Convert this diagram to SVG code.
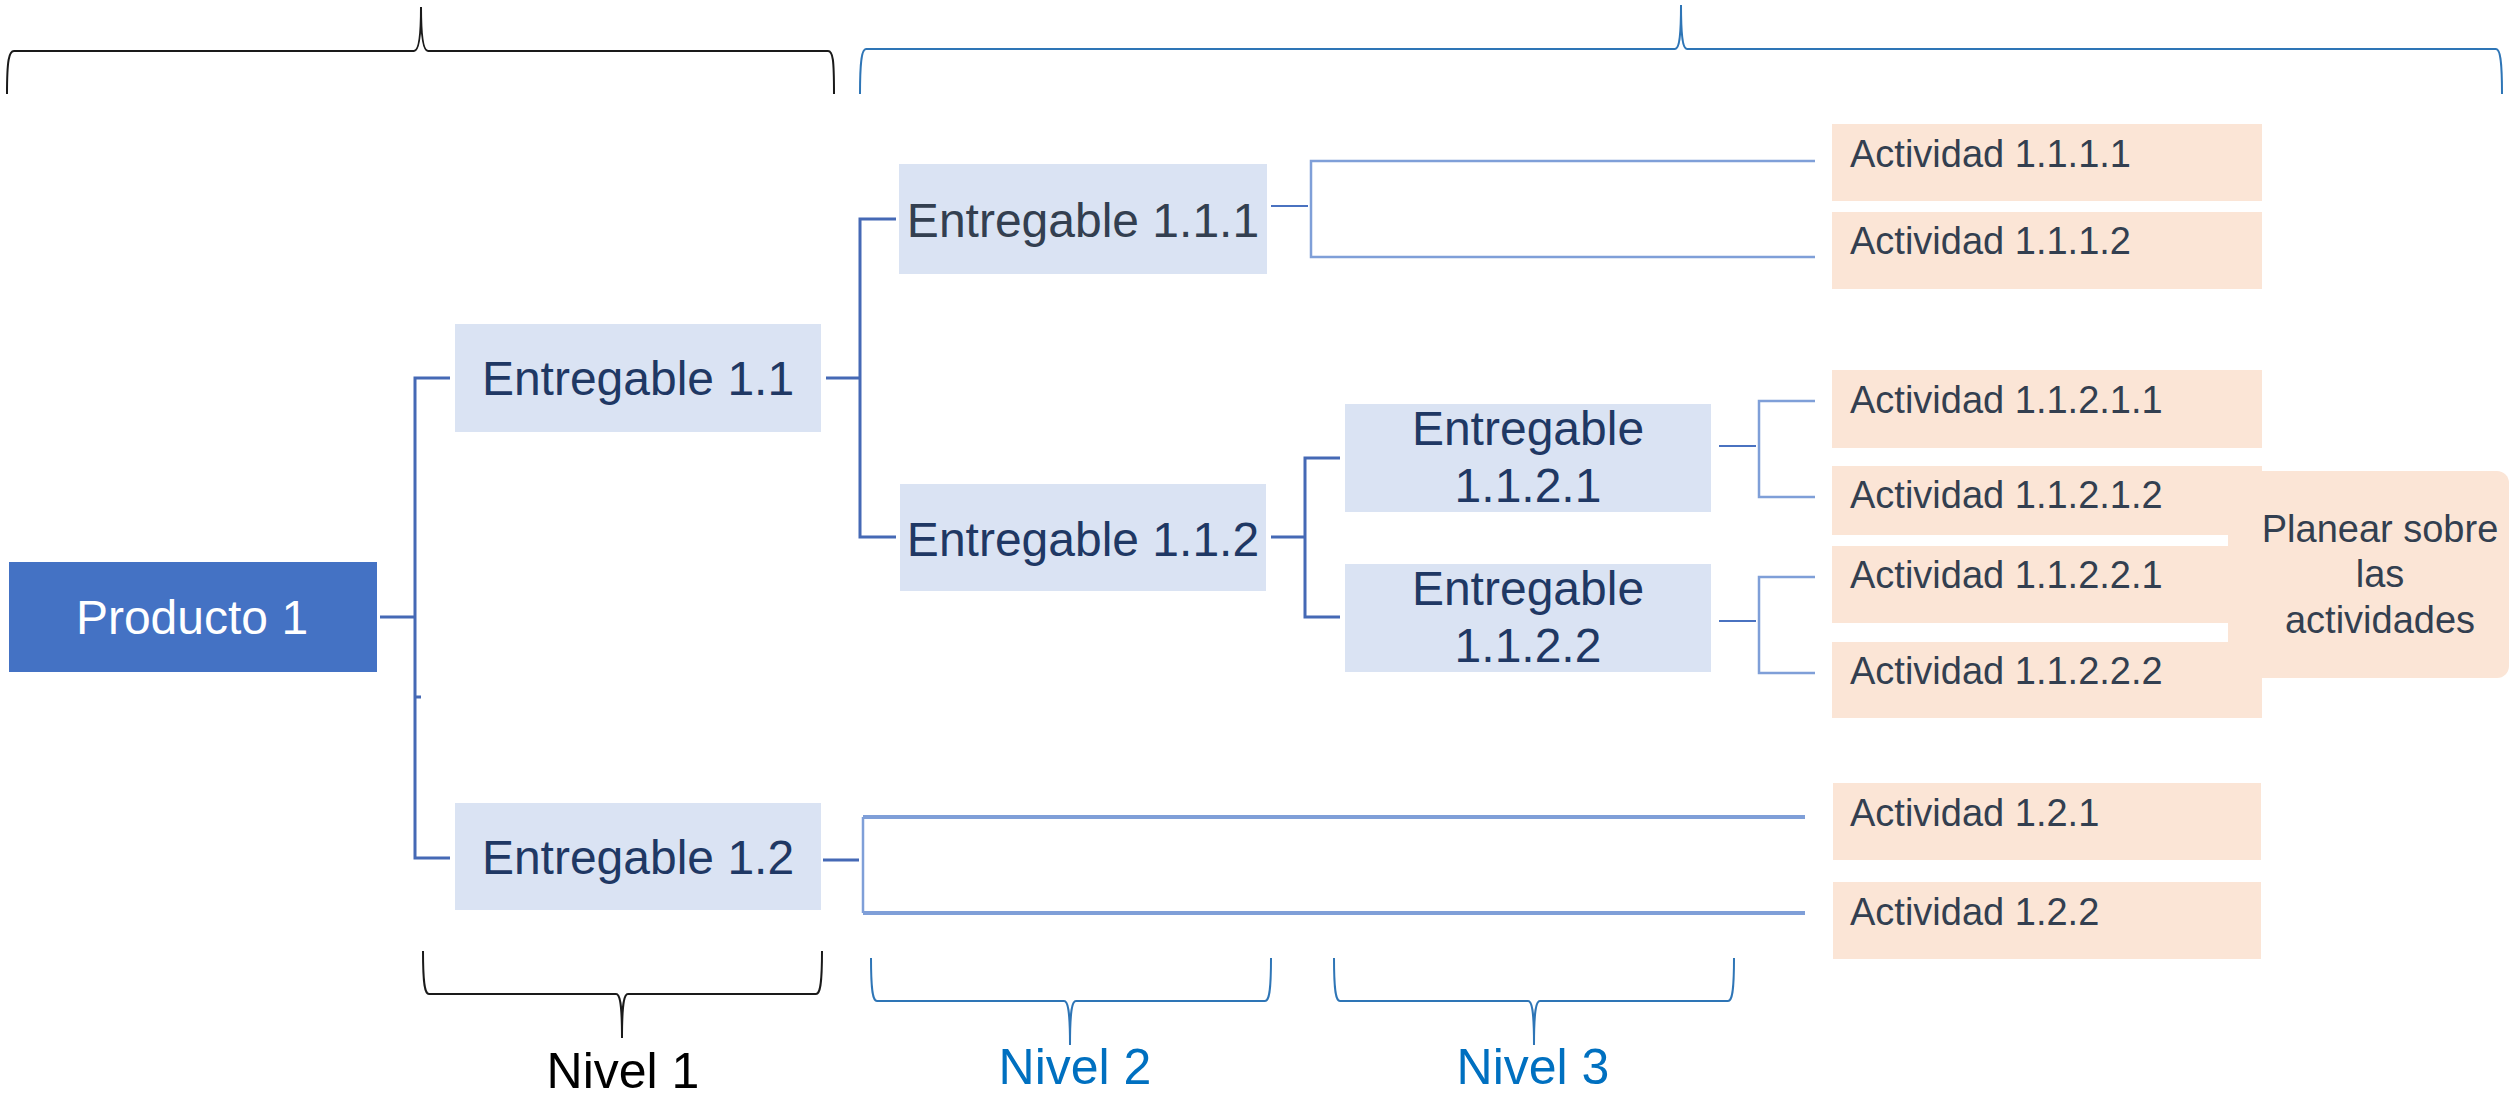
<svg xmlns="http://www.w3.org/2000/svg" width="2509" height="1095" viewBox="0 0 2509 1095">
<style>
  .ent { fill: #DAE3F3; }
  .act { fill: #FBE5D6; }
  .t { font-family: "Liberation Sans", Arial, sans-serif; }
  .te { font-size: 48px; fill: #1F3864; text-anchor: middle; }
  .tg { fill: #333F50; }
  .ta { font-size: 38px; fill: #333F50; }
  .dk { fill: none; stroke: #4569B5; stroke-width: 3; }
  .dk2 { fill: none; stroke: #4A72C0; stroke-width: 2; }
  .lt { fill: none; stroke: #7F9FD8; stroke-width: 2.5; }
  .lt3 { fill: none; stroke: #7F9FD8; stroke-width: 4; }
  .brk { fill: none; stroke: #1a1a1a; stroke-width: 2; }
  .brb { fill: none; stroke: #2E75B6; stroke-width: 2; }
  .niv { font-size: 50px; text-anchor: middle; }
</style>

<g id="braces">
  <path class="brk" d="M7,94 C7,60 9,51 14,51 L414,51 C418,51 421,40 421,7 C421,40 424,51 428,51 L828,51 C833,51 834,60 834,94"/>
  <path class="brb" d="M860,94 C860,60 862,49 866,49 L1675,49 C1679,49 1681,38 1681,5 C1681,38 1683,49 1687,49 L2496,49 C2500,49 2502,60 2502,94"/>
  <path class="brk" d="M423,951 C423,985 425,994 429,994 L616,994 C620,994 622,1003 622,1038 C622,1003 624,994 628,994 L816,994 C820,994 822,985 822,951"/>
  <path class="brb" d="M871,958 C871,992 873,1001 877,1001 L1064,1001 C1068,1001 1070,1010 1070,1045 C1070,1010 1072,1001 1076,1001 L1265,1001 C1269,1001 1271,992 1271,958"/>
  <path class="brb" d="M1334,958 C1334,992 1336,1001 1340,1001 L1528,1001 C1532,1001 1534,1010 1534,1045 C1534,1010 1536,1001 1540,1001 L1728,1001 C1732,1001 1734,992 1734,958"/>
</g>

<g id="connectors">
  <path class="dk" d="M380,617 H415 M450,378 H415 V858 H450 M415,697 H421"/>
  <path class="dk" d="M826,378 H860 M896,219 H860 V537 H896"/>
  <path class="dk" d="M1271,537 H1305 M1340,458 H1305 V617 H1340"/>
  <path class="dk2" d="M1271,206 H1308"/>
  <path class="lt" d="M1815,161 H1311 V257 H1815"/>
  <path class="dk2" d="M1719,446 H1756"/>
  <path class="lt" d="M1815,401 H1759 V497 H1815"/>
  <path class="dk2" d="M1719,621 H1756"/>
  <path class="lt" d="M1815,577 H1759 V673 H1815"/>
  <path class="dk" d="M823,860 H859"/>
  <path class="lt" d="M863,817 V913"/>
  <path class="lt3" d="M863,817 H1805 M863,913 H1805"/>
</g>

<g id="producto-1">
  <rect x="9" y="562" width="368" height="110" fill="#4472C4"/>
  <text class="t" x="192" y="634" font-size="48" fill="#FFFFFF" text-anchor="middle">Producto 1</text>
</g>

<g id="entregable-1-1">
  <rect class="ent" x="455" y="324" width="366" height="108"/>
  <text class="t te" x="638" y="395">Entregable 1.1</text>
</g>

<g id="entregable-1-2">
  <rect class="ent" x="455" y="803" width="366" height="107"/>
  <text class="t te" x="638" y="874">Entregable 1.2</text>
</g>

<g id="entregable-1-1-1">
  <rect class="ent" x="899" y="164" width="368" height="110"/>
  <text class="t te tg" x="1083" y="237">Entregable 1.1.1</text>
</g>

<g id="entregable-1-1-2">
  <rect class="ent" x="900" y="484" width="366" height="107"/>
  <text class="t te" x="1083" y="556">Entregable 1.1.2</text>
</g>

<g id="entregable-1-1-2-1">
  <rect class="ent" x="1345" y="404" width="366" height="108"/>
  <text class="t te" x="1528" y="445">Entregable</text>
  <text class="t te" x="1528" y="502">1.1.2.1</text>
</g>

<g id="entregable-1-1-2-2">
  <rect class="ent" x="1345" y="564" width="366" height="108"/>
  <text class="t te" x="1528" y="605">Entregable</text>
  <text class="t te" x="1528" y="662">1.1.2.2</text>
</g>

<g id="planear">
  <rect class="act" x="2228" y="471" width="281" height="207" rx="12" ry="12"/>
  <text class="t ta" x="2380" y="542" text-anchor="middle">Planear sobre</text>
  <text class="t ta" x="2380" y="587" text-anchor="middle">las</text>
  <text class="t ta" x="2380" y="633" text-anchor="middle">actividades</text>
</g>

<g id="actividad-1-1-1-1">
  <rect class="act" x="1832" y="124" width="430" height="77"/>
  <text class="t ta" x="1850" y="167">Actividad 1.1.1.1</text>
</g>
<g id="actividad-1-1-1-2">
  <rect class="act" x="1832" y="212" width="430" height="77"/>
  <text class="t ta" x="1850" y="254">Actividad 1.1.1.2</text>
</g>
<g id="actividad-1-1-2-1-1">
  <rect class="act" x="1832" y="370" width="430" height="78"/>
  <text class="t ta" x="1850" y="413">Actividad 1.1.2.1.1</text>
</g>
<g id="actividad-1-1-2-1-2">
  <rect class="act" x="1832" y="466" width="430" height="69"/>
  <text class="t ta" x="1850" y="508">Actividad 1.1.2.1.2</text>
</g>
<g id="actividad-1-1-2-2-1">
  <rect class="act" x="1832" y="546" width="430" height="77"/>
  <text class="t ta" x="1850" y="588">Actividad 1.1.2.2.1</text>
</g>
<g id="actividad-1-1-2-2-2">
  <rect class="act" x="1832" y="642" width="430" height="76"/>
  <text class="t ta" x="1850" y="684">Actividad 1.1.2.2.2</text>
</g>
<g id="actividad-1-2-1">
  <rect class="act" x="1833" y="783" width="428" height="77"/>
  <text class="t ta" x="1850" y="826">Actividad 1.2.1</text>
</g>
<g id="actividad-1-2-2">
  <rect class="act" x="1833" y="882" width="428" height="77"/>
  <text class="t ta" x="1850" y="925">Actividad 1.2.2</text>
</g>

<g id="niveles">
  <text class="t niv" x="623" y="1088" fill="#000000">Nivel 1</text>
  <text class="t niv" x="1075" y="1084" fill="#0070C0">Nivel 2</text>
  <text class="t niv" x="1533" y="1084" fill="#0070C0">Nivel 3</text>
</g>
</svg>
